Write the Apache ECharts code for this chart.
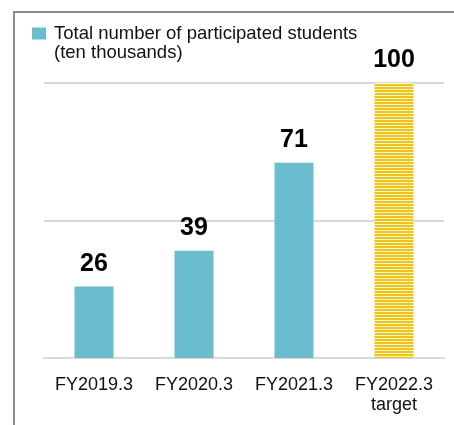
<!DOCTYPE html>
<html>
<head>
<meta charset="utf-8">
<script src="https://cdn.jsdelivr.net/npm/echarts@6/dist/echarts.min.js"></script>
<style>
  html, body { margin: 0; padding: 0; background: #fff; }
  #chart { width: 454px; height: 425px; }
</style>
</head>
<body>
<div id="chart"></div>
<script>
const categories = ['FY2019.3', 'FY2020.3', 'FY2021.3', 'FY2022.3\ntarget']
const students = [26, 39, 71, 100]
const seriesName = 'Total number of participated students\n(ten thousands)'

const BLUE = '#6abccf'
const GOLD = '#ffc000'

// striped fill for the target bar
function stripePattern() {
  const c = document.createElement('canvas')
  c.width = 4
  c.height = 3
  const ctx = c.getContext('2d')
  ctx.fillStyle = '#fff'
  ctx.fillRect(0, 0, 4, 3)
  ctx.fillStyle = GOLD
  ctx.fillRect(0, 0, 4, 2)
  return { image: c, repeat: 'repeat' }
}

const chart = echarts.init(document.getElementById('chart'), null, { renderer: 'canvas' })

chart.setOption({
  animation: false,
  textStyle: { fontFamily: 'Liberation Sans, Arial, sans-serif' },
  graphic: [{
    type: 'rect',
    shape: { x: 14, y: 12, width: 600, height: 600 },
    style: { fill: 'none', stroke: '#8c8c8c', lineWidth: 2 },
    silent: true
  }],
  legend: {
    left: 32,
    top: 24,
    padding: 0,
    // square sits at the top, the invisible tail keeps it level with the first line
    icon: 'path://M0,0h14v12h-14zM16.9,30.9L17,31',
    itemWidth: 17,
    itemHeight: 31,
    itemGap: 0,
    textStyle: { fontSize: 18.5, color: '#111', lineHeight: 19 },
    data: [{ name: seriesName, itemStyle: { color: BLUE } }]
  },
  grid: { left: 44, right: 10, top: 83, bottom: 67 },
  xAxis: {
    type: 'category',
    data: categories,
    axisLine: { lineStyle: { color: '#d9d9d9', width: 2 } },
    axisTick: { show: false },
    axisLabel: {
      interval: 0,
      hideOverlap: false,
      fontSize: 18,
      color: '#111',
      lineHeight: 20,
      margin: 17
    }
  },
  yAxis: {
    type: 'value',
    min: 0,
    max: 100,
    interval: 50,
    axisLabel: { show: false },
    axisLine: { show: false },
    axisTick: { show: false },
    splitLine: { lineStyle: { color: '#d9d9d9', width: 2 } }
  },
  series: [{
    type: 'bar',
    name: seriesName,
    barWidth: 39,
    data: students.map((v, i) => ({
      value: v,
      itemStyle: { color: i === students.length - 1 ? stripePattern() : BLUE }
    })),
    itemStyle: { color: BLUE },
    label: {
      show: true,
      position: 'top',
      distance: 10,
      fontSize: 25,
      fontWeight: 'bold',
      color: '#000'
    }
  }]
})
</script>
</body>
</html>
